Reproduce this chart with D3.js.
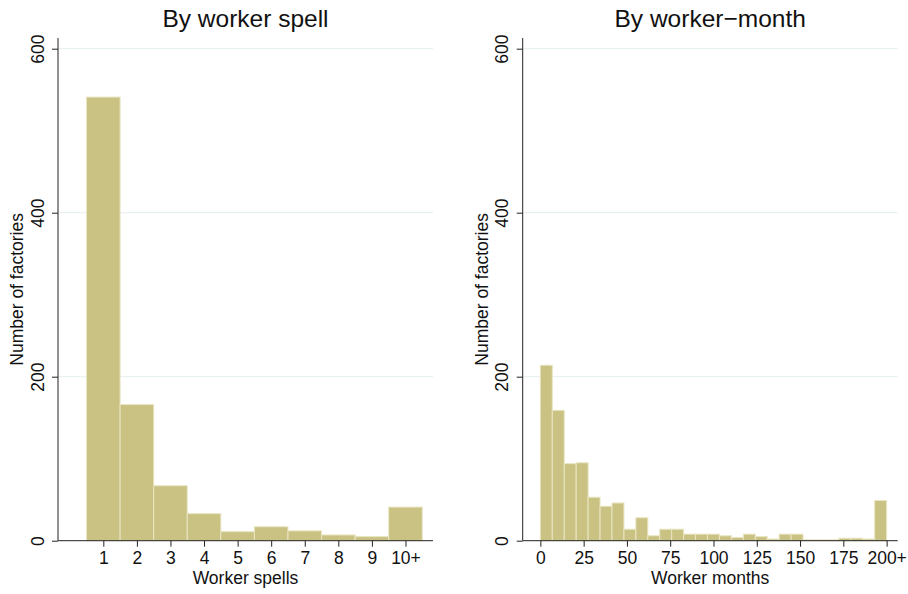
<!DOCTYPE html>
<html>
<head>
<meta charset="utf-8">
<script src="https://cdn.jsdelivr.net/npm/d3@7"></script>
<style>
  html, body { margin: 0; padding: 0; background: #fff; }
  svg { display: block; font-family: "Liberation Sans", Arial, Helvetica, sans-serif; }
</style>
</head>
<body>
<div id="chart"></div>
<script>
// --- data ---
const spellLabels = ["1", "2", "3", "4", "5", "6", "7", "8", "9", "10+"];
const spellCounts = [541, 166, 67, 33, 11, 17, 12, 7, 5, 41];

// worker-month histogram: 29 equal bins over 0..200 (last bin holds 200+)
const monthCounts = [214, 159, 94, 95, 53, 42, 46, 14, 28, 6,
                     14, 14, 8, 8, 8, 6, 4, 8, 5, 2,
                     8, 8, 1, 1, 1, 3, 3, 2, 49];
const monthMax = 200;
const monthTicks = [0, 25, 50, 75, 100, 125, 150, 175, 200];
const monthTickLabels = ["0", "25", "50", "75", "100", "125", "150", "175", "200+"];

const yTicks = [0, 200, 400, 600];

const W = 908, H = 594;
const barFill = "#cac283", barStroke = "#e9e5c2", gridColor = "#eaf1f3";
const fs = 17.5;

const svg = d3.select("#chart").append("svg")
    .attr("width", W).attr("height", H);

// shared y scale
const y = d3.scaleLinear().domain([0, 600]).range([540.7, 48.7]);

function drawPanel(opts) {
    const g = svg.append("g");
    const x = opts.x;
    const [x0, x1] = x.range();

    // gridlines
    g.selectAll("line.grid").data(yTicks.filter(d => d > 0)).enter().append("line")
        .attr("x1", x0).attr("x2", x1)
        .attr("y1", d => y(d)).attr("y2", d => y(d))
        .attr("stroke", gridColor).attr("stroke-width", 1.2);

    // bars
    g.selectAll("rect.bar").data(opts.bars).enter().append("rect")
        .attr("x", d => x(d.lo))
        .attr("width", d => x(d.hi) - x(d.lo))
        .attr("y", d => y(d.v))
        .attr("height", d => y(0) - y(d.v))
        .attr("fill", barFill)
        .attr("stroke", barStroke)
        .attr("stroke-width", 1);

    // y axis
    const yAxis = g.append("g").attr("transform", `translate(${x0},0)`)
        .call(d3.axisLeft(y).tickValues(yTicks).tickSize(6).tickSizeOuter(0).tickFormat(d3.format("d")));
    yAxis.select(".domain").attr("d", `M0,${y(0)}V${y(613)}`).attr("stroke", "#222");
    yAxis.selectAll(".tick line").attr("stroke", "#222");
    yAxis.selectAll(".tick text")
        .attr("x", null).attr("dy", null)
        .attr("transform", "translate(-14.5,0) rotate(-90)")
        .attr("text-anchor", "middle")
        .attr("font-size", fs).attr("fill", "#111");

    // x axis
    const xAxis = g.append("g").attr("transform", `translate(0,${y(0)})`)
        .call(d3.axisBottom(x).tickValues(opts.ticks).tickSize(6).tickSizeOuter(0)
            .tickFormat((d, i) => opts.tickLabels[i]));
    xAxis.select(".domain").attr("d", `M${x0},0H${x1}`).attr("stroke", "#222");
    xAxis.selectAll(".tick line").attr("stroke", "#222");
    xAxis.selectAll(".tick text")
        .attr("y", 23.8).attr("dy", null)
        .attr("font-size", fs).attr("fill", "#111");

    // titles
    svg.append("text")
        .attr("x", (x0 + x1) / 2).attr("y", 26.7)
        .attr("text-anchor", "middle").attr("font-size", 24.5).attr("fill", "#111")
        .text(opts.title);
    svg.append("text")
        .attr("x", (x0 + x1) / 2).attr("y", 584)
        .attr("text-anchor", "middle").attr("font-size", fs).attr("fill", "#111")
        .text(opts.xTitle);
    svg.append("text")
        .attr("transform", `translate(${x0 - 35},${(y(0) + y(613)) / 2}) rotate(-90)`)
        .attr("text-anchor", "middle").attr("font-size", fs).attr("fill", "#111")
        .text("Number of factories");
}

// left panel: worker spells
const xSpell = d3.scaleLinear().domain([-0.35, 10.82]).range([58, 433]);
drawPanel({
    x: xSpell,
    bars: spellCounts.map((v, i) => ({ lo: i + 0.5, hi: i + 1.5, v })),
    ticks: spellLabels.map((_, i) => i + 1),
    tickLabels: spellLabels,
    title: "By worker spell",
    xTitle: "Worker spells"
});

// right panel: worker months
const binW = monthMax / monthCounts.length;
const xMonth = d3.scaleLinear().domain([-10.2, 206.4]).range([522.7, 897.7]);
drawPanel({
    x: xMonth,
    bars: monthCounts.map((v, i) => ({ lo: i * binW, hi: (i + 1) * binW, v })),
    ticks: monthTicks,
    tickLabels: monthTickLabels,
    title: "By worker\u2212month",
    xTitle: "Worker months"
});
</script>
</body>
</html>
